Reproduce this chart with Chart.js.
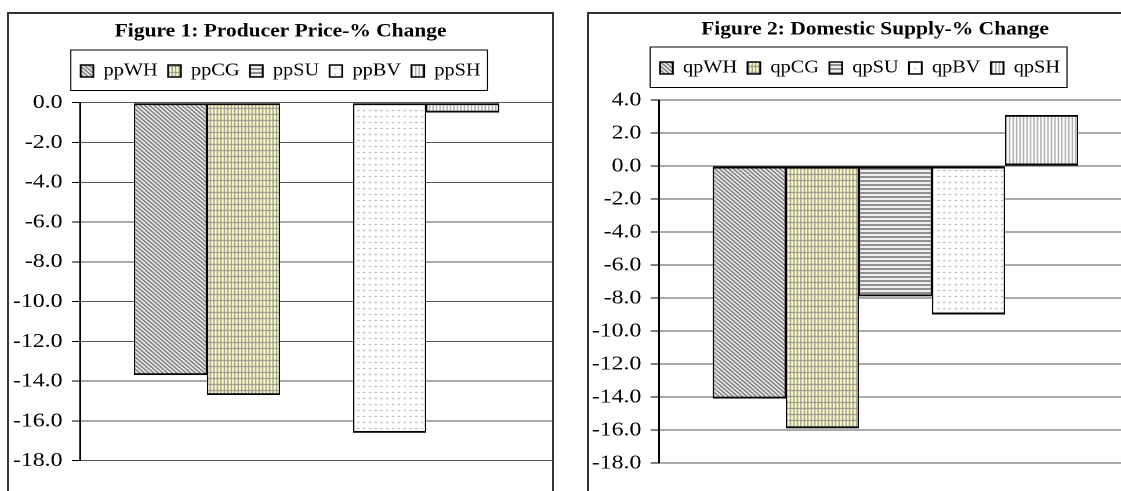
<!DOCTYPE html>
<html lang="en">
  <head>
    <meta charset="UTF-8" />
    <script src="https://cdn.jsdelivr.net/npm/chart.js@4.4.1/dist/chart.umd.min.js"></script>
    <title>Producer price and domestic supply - % change</title>
    <style>
      body {
        margin: 0;
        background: #fff;
        width: 1121px;
        height: 491px;
        overflow: hidden;
        position: relative;
      }
      .frame {
        position: absolute;
        top: 12px;
        height: 500px;
        border: 2px solid #333;
        box-sizing: border-box;
      }
      /* the charts are drawn a bit narrow and widened, like the old spreadsheet export */
      .plot {
        position: absolute;
        top: 0;
        height: 491px;
        transform: scaleX(1.16);
        transform-origin: 0 0;
      }
    </style>
  </head>
  <body>
    <div class="frame" style="left: 7px; width: 547px"></div>
    <div class="frame" style="left: 587px; width: 580px"></div>
    <div class="plot" style="left: 8px; width: 470px"><canvas id="fig1"></canvas></div>
    <div class="plot" style="left: 588px; width: 495px"><canvas id="fig2"></canvas></div>
    <script>
      const priceSeries = ['ppWH', 'ppCG', 'ppSU', 'ppBV', 'ppSH']
      const priceChange = [-13.7, -14.7, 0, -16.6, -0.5]
      const priceTicks = [0, -2, -4, -6, -8, -10, -12, -14, -16, -18]

      const supplySeries = ['qpWH', 'qpCG', 'qpSU', 'qpBV', 'qpSH']
      const supplyChange = [-14.1, -15.9, -7.9, -9.0, 3.1]
      const supplyTicks = [4, 2, 0, -2, -4, -6, -8, -10, -12, -14, -16, -18]

      const serif = "'Liberation Serif', 'Times New Roman', serif"

      // small repeating fills, one per series
      const tile = (w, h, paint) => {
        const c = document.createElement('canvas')
        c.width = w
        c.height = h
        const g = c.getContext('2d')
        g.fillStyle = '#fff'
        g.fillRect(0, 0, w, h)
        paint(g)
        return g.createPattern(c, 'repeat')
      }
      const hatches = [
        tile(4, 4, (g) => {
          g.fillStyle = '#727272'
          for (let i = 0; i < 4; i++) {
            g.fillRect(i, i, 1, 1)
            g.fillRect((i + 1) % 4, i, 1, 1)
          }
        }),
        tile(3, 6, (g) => {
          g.fillStyle = '#ffffc4'
          g.fillRect(0, 0, 3, 6)
          g.fillStyle = '#8c8c8c'
          g.fillRect(0, 0, 1, 6)
          g.fillRect(0, 0, 3, 1)
        }),
        tile(1, 4, (g) => {
          g.fillStyle = '#808080'
          g.fillRect(0, 0, 1, 2)
        }),
        tile(5, 6, (g) => {
          g.fillStyle = '#a8a8a8'
          g.fillRect(1, 2, 2, 1)
        }),
        tile(3, 1, (g) => {
          g.fillStyle = '#969696'
          g.fillRect(0, 0, 1, 1)
        }),
      ]

      // title centred on the whole frame, extra room under the legend, legend box outline
      const framing = {
        id: 'framing',
        beforeUpdate(chart, args, opts) {
          const legend = chart.legend
          if (legend && !legend._widened) {
            const fit = legend.fit
            legend.fit = function () {
              fit.call(this)
              this.height += opts.gap
            }
            legend._widened = true
          }
        },
        afterLayout(chart) {
          if (chart.titleBlock) {
            chart.titleBlock.left = 0
            chart.titleBlock.right = chart.width
          }
        },
        afterDraw(chart) {
          const boxes = chart.legend.legendHitBoxes
          const first = boxes[0]
          const last = boxes[boxes.length - 1]
          const ctx = chart.ctx
          const x0 = first.left - 8.5
          const x1 = last.left + last.width + 6
          ctx.save()
          ctx.strokeStyle = '#000'
          ctx.lineWidth = 1
          ctx.strokeRect(x0, first.top - 12.25, x1 - x0, 40.5)
          ctx.restore()
        },
      }

      function drawFigure(id, title, series, values, ticks, box) {
        return new Chart(document.getElementById(id), {
          type: 'bar',
          data: {
            labels: [''],
            datasets: series.map((name, i) => ({
              label: name,
              data: [values[i]],
              backgroundColor: hatches[i],
              borderColor: '#000',
              borderWidth: { top: 2, bottom: 2, left: 1.2, right: 1.2 },
              borderSkipped: false,
              inflateAmount: 0,
              categoryPercentage: 0.772,
              barPercentage: 1,
            })),
          },
          options: {
            maintainAspectRatio: false,
            animation: false,
            devicePixelRatio: 2,
            events: [],
            layout: {
              padding: { top: 12, left: 0, right: box.right, bottom: box.bottom },
            },
            plugins: {
              title: {
                display: true,
                text: title,
                color: '#000',
                font: { family: serif, size: 18.5, weight: 'bold' },
                padding: { top: box.titleTop, bottom: box.titleBottom },
              },
              legend: {
                labels: {
                  boxWidth: 11,
                  boxHeight: 12,
                  padding: 9,
                  color: '#000',
                  font: { family: serif, size: 17.5 },
                },
              },
              tooltip: { enabled: false },
              framing: { gap: box.gap },
            },
            scales: {
              x: { display: false },
              y: {
                min: Math.min(...ticks),
                max: Math.max(...ticks),
                ticks: {
                  stepSize: 2,
                  color: '#000',
                  padding: 8,
                  font: { family: serif, size: 20.5 },
                  callback: (v) => v.toFixed(1),
                },
                grid: {
                  color: '#555',
                  lineWidth: 1,
                  tickLength: 7,
                  tickColor: '#000',
                },
                border: { color: '#000', width: 1.5 },
                afterFit: (scale) => {
                  scale.width = box.axis
                },
              },
            },
          },
          plugins: [framing],
        })
      }

      drawFigure('fig1', 'Figure 1: Producer Price-% Change', priceSeries, priceChange, priceTicks, {
        right: 0, bottom: 30.3, axis: 62, titleTop: 8.4, titleBottom: 10.65, gap: 12.95,
      })
      drawFigure('fig2', 'Figure 2: Domestic Supply-% Change', supplySeries, supplyChange, supplyTicks, {
        right: 26, bottom: 28, axis: 61, titleTop: 6.4, titleBottom: 9.65, gap: 13.25,
      })
    </script>
  </body>
</html>
